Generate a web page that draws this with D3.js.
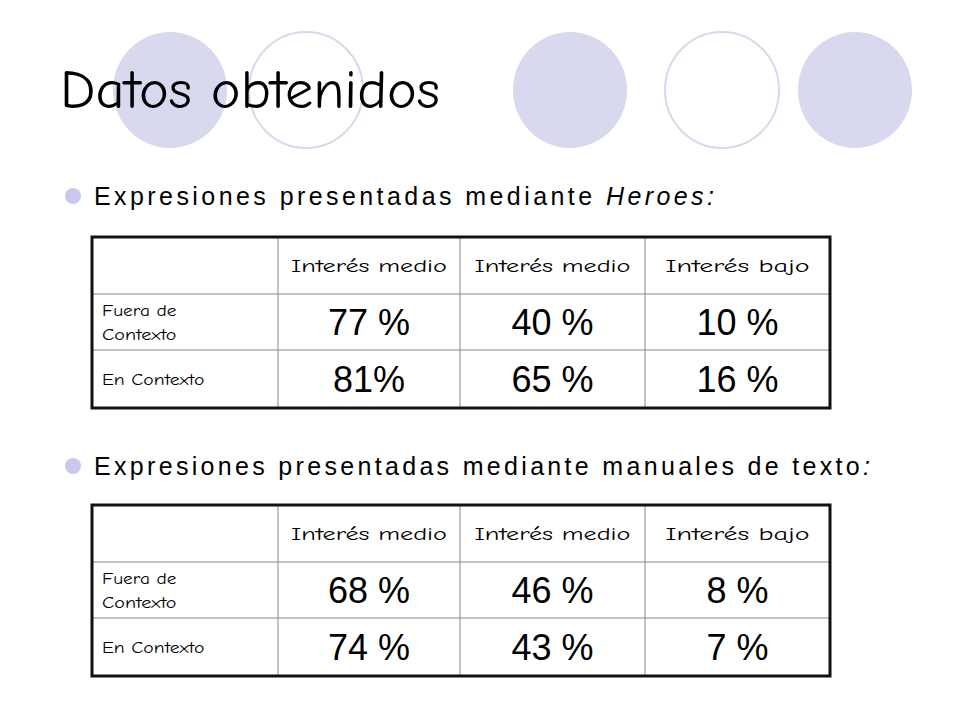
<!DOCTYPE html><html><head><meta charset="utf-8"><script src="https://cdn.jsdelivr.net/npm/d3@7"></script>
<style>body{margin:0;background:#fff}</style></head><body><svg id="c" width="960" height="720"></svg>
<script>
const columns = ["Interés medio","Interés medio","Interés bajo"];
const rowLabels = [["Fuera de","Contexto"],["En Contexto"]];
const heroesValues = [["77 %","40 %","10 %"],["81%","65 %","16 %"]];
const manualValues = [["68 %","46 %","8 %"],["74 %","43 %","7 %"]];
const circles = [{cx:170,f:true},{cx:306,f:false},{cx:570,f:true},{cx:722,f:false},{cx:855,f:true}];

const svg = d3.select("#c");
svg.selectAll("ellipse").data(circles).join("ellipse")
  .attr("cx",d=>d.cx).attr("cy",90).attr("rx",57).attr("ry",58)
  .attr("fill",d=>d.f?"#d8d8ee":"#fff").attr("stroke",d=>d.f?"none":"#d8d8ee").attr("stroke-width",2);
const comic = "'Comic Sans MS','Comic Neue','DejaVu Sans',sans-serif";
svg.append("text").attr("x",60).attr("y",108).attr("font-family",comic).attr("font-size",54)
  .attr("textLength",380).attr("lengthAdjust","spacingAndGlyphs").text("Datos obtenidos");

function bullet(y, parts, len){
  svg.append("circle").attr("cx",73).attr("cy",y-9).attr("r",8).attr("fill","#c9c9ee");
  const t = svg.append("text").attr("x",94).attr("y",y).attr("font-family","'Liberation Sans',Arial,sans-serif").attr("font-size",25)
    .attr("textLength",len).attr("lengthAdjust","spacing");
  parts.forEach(p=>t.append("tspan").attr("font-style",p[1]?"italic":null).text(p[0]));
}
bullet(205,[["Expresiones presentadas mediante ",false],["Heroes:",true]],620);
bullet(475,[["Expresiones presentadas mediante manuales de texto",false],[":",true]],776);

const x = d3.scaleOrdinal().domain([0,1,2,3,4]).range([92,278,460,645,830]);
function table(top, vals){
  const y = d3.scaleLinear().domain([0,1,2,3]).range([top, top+57, top+113, top+171]);
  const g = svg.append("g");
  [1,2].forEach(i=>g.append("line").attr("x1",92).attr("x2",830).attr("y1",y(i)).attr("y2",y(i)).attr("stroke","#888").attr("stroke-width",1));
  [1,2,3].forEach(i=>g.append("line").attr("x1",x(i)).attr("x2",x(i)).attr("y1",top).attr("y2",y(3)).attr("stroke","#888").attr("stroke-width",1));
  g.append("rect").attr("x",92).attr("y",top).attr("width",738).attr("height",171).attr("fill","none").attr("stroke","#111").attr("stroke-width",3);
  columns.forEach((c,i)=>g.append("text").attr("x",(x(i+1)+x(i+2))/2).attr("y",(y(0)+y(1))/2+6)
    .attr("text-anchor","middle").attr("font-family",comic).attr("font-size",17)
    .attr("textLength",c.length*12).attr("lengthAdjust","spacingAndGlyphs").text(c));
  rowLabels.forEach((lab,r)=>{
    const cy=(y(r+1)+y(r+2))/2;
    lab.forEach((l,k)=>g.append("text").attr("x",102).attr("y",cy+6+(lab.length>1?(k-0.5)*24:0))
      .attr("font-family",comic).attr("font-size",15)
      .attr("textLength",l.length*9.3).attr("lengthAdjust","spacingAndGlyphs").text(l));
    vals[r].forEach((v,i)=>g.append("text").attr("x",(x(i+1)+x(i+2))/2).attr("y",cy+13)
      .attr("text-anchor","middle").attr("font-family","'Liberation Sans',Arial,sans-serif").attr("font-size",36).text(v));
  });
}
table(237, heroesValues);
table(505, manualValues);
</script></body></html>
